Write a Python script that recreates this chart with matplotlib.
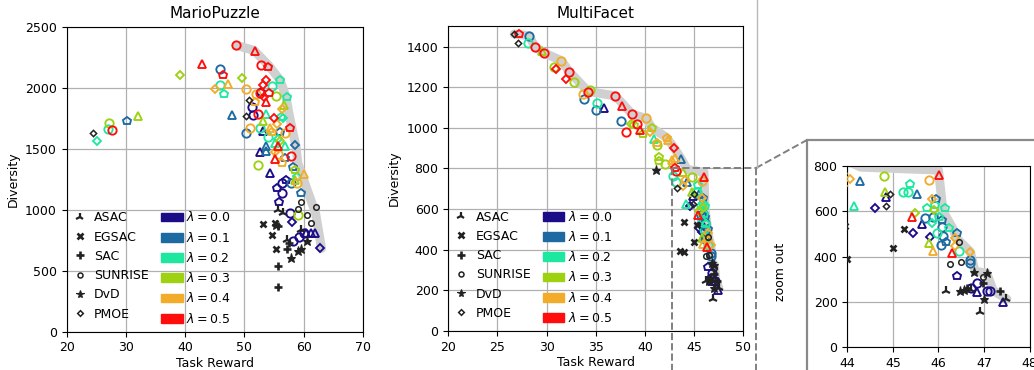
import matplotlib
matplotlib.use('Agg')
import matplotlib.pyplot as plt
from matplotlib.lines import Line2D
from matplotlib.patches import Patch, Rectangle

# ---- values ----
lambdas = [0.0, 0.1, 0.2, 0.3, 0.4, 0.5]
lam_colors = ['#1b0c87', '#1d6aa2', '#1ee8a0', '#9ed10f', '#f2ac2a', '#ff0d0d']
base_names = ['ASAC', 'EGSAC', 'SAC', 'SUNRISE', 'DvD', 'PMOE']

# MarioPuzzle, our method: (marker, task reward, diversity)
mario_lam00 = [('o', 51.2, 1839), ('o', 51.5, 1776), ('o', 56.3, 1221), ('o', 56.3, 1139), ('o', 57.6, 975),
               ('o', 58.2, 746), ('o', 59.2, 773), ('o', 60.0, 806),
               ('^', 53.2, 1645), ('^', 52.6, 1475), ('^', 54.3, 1303), ('^', 60.4, 805), ('^', 61.2, 808),
               ('^', 61.9, 805),
               ('p', 57.0, 1243), ('p', 55.5, 1175), ('p', 55.8, 1065), ('p', 52.8, 1967),
               ('D', 58.1, 902), ('D', 62.8, 683)]
mario_lam01 = [('o', 45.9, 2150), ('o', 50.2, 1631), ('o', 57.8, 1221),
               ('^', 47.9, 1776), ('^', 53.7, 1522), ('^', 53.7, 1483),
               ('p', 30.1, 1727), ('p', 56.0, 1639), ('p', 56.8, 1421), ('p', 58.2, 1352), ('p', 59.5, 1134),
               ('D', 58.5, 1530)]
mario_lam02 = [('o', 26.9, 1661), ('o', 45.9, 2022), ('o', 54.6, 2016), ('o', 52.6, 1672), ('o', 54.0, 1598),
               ('^', 53.7, 1784), ('^', 56.8, 1524), ('^', 55.1, 1543),
               ('p', 56.0, 2063), ('p', 46.6, 1945), ('p', 57.1, 1926), ('p', 58.8, 1270), ('p', 56.2, 1760),
               ('D', 25.1, 1563), ('D', 56.5, 1754), ('D', 55.6, 1580)]
mario_lam03 = [('o', 27.2, 1708), ('o', 55.3, 1932), ('o', 52.2, 1366), ('o', 59.1, 956),
               ('^', 32.1, 1770), ('^', 56.7, 1858), ('^', 53.2, 1729), ('^', 58.6, 1240),
               ('p', 58.5, 1325),
               ('D', 39.2, 2101), ('D', 49.6, 2076), ('D', 56.0, 1560)]
mario_lam04 = [('o', 50.2, 1986), ('o', 51.9, 1948), ('o', 50.9, 1672), ('o', 56.8, 1626), ('o', 55.7, 1456),
               ('o', 58.8, 1221),
               ('^', 47.3, 2030), ('^', 54.3, 1667), ('^', 60.1, 1289),
               ('p', 51.7, 1885), ('p', 54.7, 1639), ('p', 56.4, 1385),
               ('D', 45.1, 1986), ('D', 56.3, 1822), ('D', 55.5, 1700), ('D', 55.2, 1470)]
mario_lam05 = [('o', 48.6, 2347), ('o', 52.8, 2183), ('o', 52.6, 1959), ('o', 52.3, 1781), ('o', 57.8, 1442),
               ('o', 27.7, 1653),
               ('^', 51.7, 2300), ('^', 42.9, 2191), ('^', 53.7, 1885), ('^', 55.6, 1524), ('^', 55.1, 1412),
               ('p', 54.0, 2172), ('p', 46.3, 2106), ('p', 54.2, 1953), ('p', 57.7, 1667),
               ('D', 53.6, 2063), ('D', 53.2, 2022), ('D', 53.3, 1926), ('D', 55.0, 1749)]

mario_asac = [(55.7, 997), (56.5, 970), (57.1, 751), (59.6, 833)]
mario_egsac = [(53.05, 882), (54.6, 792), (55.3, 675), (55.1, 887)]
mario_sac = [(55.6, 541), (55.6, 363), (55.7, 866), (57.2, 675), (57.5, 724)]
mario_sunrise = [(59.5, 1060), (59.1, 1003), (60.5, 956), (62.0, 1024), (61.2, 893)]
mario_dvd = [(57.8, 601), (59.0, 664), (59.6, 675), (60.6, 746), (55.4, 872)]
mario_pmoe = [(24.5, 1631), (50.75, 1899), (50.2, 1768)]

mario_front_x = [48.6, 51.6, 54.0, 56.0, 57.0, 57.5, 58.2, 58.7, 59.0, 59.6, 61.2, 62.0, 63.0]
mario_front_y = [2347, 2306, 2186, 2063, 1926, 1790, 1626, 1516, 1380, 1298, 1079, 970, 683]

# MultiFacet, our method
mf_lam00 = [('^', 35.8, 1099), ('^', 44.85, 664), ('^', 45.65, 542), ('^', 46.85, 245), ('^', 47.41, 200),
            ('D', 44.6, 616), ('D', 45.45, 505), ('D', 45.81, 485),
            ('p', 46.41, 315),
            ('o', 46.84, 284), ('o', 46.71, 259), ('o', 47.06, 247), ('o', 47.14, 247)]
mf_lam01 = [('o', 28.2, 1454), ('o', 33.8, 1142), ('o', 35.0, 1088), ('o', 37.6, 1034), ('o', 45.7, 569),
            ('o', 45.87, 576), ('o', 46.07, 532), ('o', 46.11, 490), ('o', 46.06, 451), ('o', 46.69, 384),
            ('o', 46.69, 370),
            ('^', 43.7, 847), ('^', 44.28, 734), ('^', 45.54, 675),
            ('p', 45.95, 654), ('p', 46.07, 561), ('p', 46.16, 463), ('p', 46.4, 502)]
mf_lam02 = [('o', 28.1, 1416), ('o', 35.1, 1121), ('o', 42.8, 763), ('o', 43.2, 735), ('o', 45.23, 683),
            ('o', 45.34, 686), ('o', 45.96, 502), ('o', 46.45, 424),
            ('^', 40.9, 944), ('^', 44.15, 625),
            ('p', 45.38, 719), ('p', 45.92, 627), ('p', 45.74, 613), ('p', 46.14, 613), ('p', 46.02, 576),
            ('p', 46.24, 527),
            ('D', 45.85, 546)]
mf_lam03 = [('^', 29.5, 1378), ('^', 43.9, 784), ('^', 44.83, 686), ('^', 45.8, 458),
            ('o', 30.7, 1298), ('o', 32.8, 1228), ('o', 34.4, 1186), ('o', 41.2, 916), ('o', 42.0, 822),
            ('o', 44.8, 757),
            ('p', 38.9, 1015), ('p', 39.8, 968), ('p', 40.7, 1001), ('p', 41.4, 858), ('p', 41.4, 838),
            ('D', 38.6, 1020), ('D', 45.48, 591), ('D', 45.9, 605)]
mf_lam04 = [('o', 31.5, 1331), ('o', 33.7, 1167), ('o', 40.1, 1047), ('o', 45.8, 738),
            ('^', 42.3, 940), ('^', 42.7, 842), ('^', 43.1, 850), ('^', 45.89, 426),
            ('p', 41.2, 925), ('p', 42.2, 952),
            ('D', 40.5, 981), ('D', 43.9, 712), ('D', 44.06, 742), ('D', 45.85, 653), ('D', 46.36, 480),
            ('D', 46.36, 448), ('D', 46.69, 421)]
mf_lam05 = [('p', 27.2, 1462), ('o', 28.8, 1397), ('o', 29.7, 1367), ('D', 31.0, 1290), ('o', 32.3, 1277),
            ('D', 32.0, 1239), ('o', 34.2, 1177), ('o', 37.0, 1157), ('^', 37.7, 1109), ('o', 38.7, 1067),
            ('o', 38.1, 981), ('o', 39.2, 1020), ('^', 39.5, 990), ('D', 43.0, 899), ('p', 43.1, 804),
            ('o', 43.2, 790), ('^', 46.01, 760), ('^', 45.43, 573), ('^', 46.3, 414)]

mf_asac = [(46.16, 247), (46.71, 252), (47.48, 212), (46.91, 156)]
mf_egsac = [(43.95, 535), (45.0, 436), (43.6, 395), (44.0, 390), (45.25, 521)]
mf_sac = [(46.97, 281), (46.62, 259), (47.36, 247)]
mf_sunrise = [(46.45, 463), (46.25, 367), (46.49, 374), (46.97, 308)]
mf_dvd = [(41.1, 793), (46.79, 333), (47.06, 326), (46.47, 247), (46.56, 252), (47.0, 211)]
mf_pmoe = [(26.7, 1462), (27.1, 1419), (43.3, 702), (44.94, 675), (44.86, 623)]

mf_front_x = [26.7, 28.2, 28.8, 29.7, 31.5, 32.3, 34.2, 37.0, 38.7, 40.1, 40.7, 42.2, 43.0, 43.7, 44.3,
              46.0, 46.1, 46.3, 46.4, 46.7, 46.8, 47.06, 47.2, 47.5]
mf_front_y = [1462, 1454, 1400, 1370, 1331, 1277, 1180, 1157, 1067, 1047, 1001, 952, 899, 847, 795,
              782, 600, 530, 480, 421, 335, 326, 250, 212]

# ---- styles ----
base_style = {
    'ASAC': dict(marker='2', ms=7, mew=1.6),
    'EGSAC': dict(marker='x', ms=4.5, mew=1.9),
    'SAC': dict(marker='+', ms=6, mew=1.9),
    'SUNRISE': dict(marker='o', ms=4, mew=1.1, mfc='none'),
    'DvD': dict(marker='*', ms=6.5, mew=0.8),
    'PMOE': dict(marker='D', ms=3.2, mew=1.1, mfc='none'),
}
shape_size = {'o': 6.0, '^': 6.0, 'p': 6.2, 'D': 4.3}

W, H = 1034, 370
fig = plt.figure(figsize=(W / 100, H / 100), dpi=100)


def px_axes(l, t, r, b):
    return fig.add_axes([l / W, 1 - b / H, (r - l) / W, (b - t) / H])


def draw(ax, lam_sets, bases, fx, fy):
    ax.grid(True, color='#b0b0b0', lw=0.9, zorder=0)
    ax.set_axisbelow(True)
    ax.plot(fx, fy, color='#d0d0d0', lw=6.5, solid_capstyle='round', solid_joinstyle='round', zorder=1)
    for pts, c in zip(lam_sets, lam_colors):
        for m in ['o', '^', 'p', 'D']:
            xs = [p[1] for p in pts if p[0] == m]
            ys = [p[2] for p in pts if p[0] == m]
            ax.plot(xs, ys, ls='', marker=m, ms=shape_size[m], mfc='none', mec=c, mew=1.35, zorder=3)
    for name, pts in zip(base_names, bases):
        ax.plot([p[0] for p in pts], [p[1] for p in pts], ls='', color='#222222', zorder=4,
                **base_style[name])
    ax.tick_params(labelsize=9)


def add_legend(ax):
    handles = []
    for name in base_names:
        st = dict(base_style[name])
        st['ms'] = st['ms'] * 0.9
        handles.append(Line2D([], [], ls='', color='#222222', **st))
    for c in lam_colors:
        handles.append(Patch(facecolor=c, edgecolor=c))
    labels = base_names + [r'$\lambda = %.1f$' % l for l in lambdas]
    ax.legend(handles, labels, ncol=2, loc='lower left', bbox_to_anchor=(0.0, 0.012), frameon=False,
              fontsize=9, handlelength=1.7, handletextpad=0.3, columnspacing=1.0,
              borderaxespad=0.0, borderpad=0.2)


# MarioPuzzle
ax1 = px_axes(66.7, 26.7, 363, 331.7)
draw(ax1, [mario_lam00, mario_lam01, mario_lam02, mario_lam03, mario_lam04, mario_lam05],
     [mario_asac, mario_egsac, mario_sac, mario_sunrise, mario_dvd, mario_pmoe],
     mario_front_x, mario_front_y)
ax1.set_xlim(20, 70)
ax1.set_ylim(0, 2500)
ax1.set_title('MarioPuzzle', fontsize=11)
ax1.set_xlabel('Task Reward', fontsize=9, labelpad=2)
ax1.set_ylabel('Diversity', fontsize=9)
add_legend(ax1)

# MultiFacet
mf_sets = [mf_lam00, mf_lam01, mf_lam02, mf_lam03, mf_lam04, mf_lam05]
mf_bases = [mf_asac, mf_egsac, mf_sac, mf_sunrise, mf_dvd, mf_pmoe]
ax2 = px_axes(448.3, 26.3, 743.3, 331)
draw(ax2, mf_sets, mf_bases, mf_front_x, mf_front_y)
ax2.set_xlim(20, 50)
ax2.set_ylim(0, 1500)
ax2.set_title('MultiFacet', fontsize=11)
ax2.set_xlabel('Task Reward', fontsize=9, labelpad=2)
ax2.set_ylabel('Diversity', fontsize=9)
add_legend(ax2)

# zoomed view of the MultiFacet tail
ax3 = px_axes(847.3, 166, 1029.6, 347)
draw(ax3, mf_sets, mf_bases, mf_front_x, mf_front_y)
ax3.set_xlim(44, 48)
ax3.set_ylim(0, 800)
ax3.set_yticks([0, 200, 400, 600, 800])
fig.text(780 / W, 1 - 272 / H, 'zoom out', rotation=90, ha='center', va='center', fontsize=9)

# decorations: zoom box, connector, frame, separator
dash = dict(color='#808080', ls='--', lw=1.4, transform=fig.transFigure)
fig.add_artist(Line2D([672 / W, 756 / W], [1 - 168 / H, 1 - 168 / H], **dash))
fig.add_artist(Line2D([672 / W, 672 / W], [1 - 168 / H, -0.05], **dash))
fig.add_artist(Line2D([756 / W, 756 / W], [1 - 168 / H, -0.05], **dash))
fig.add_artist(Line2D([756 / W, 807 / W], [1 - 168 / H, 1 - 140 / H], **dash))
fig.add_artist(Line2D([757 / W, 757 / W], [1 - 168 / H, 1.0], color='#b8b8b8', lw=1.0,
                      transform=fig.transFigure))
fig.add_artist(Rectangle((807 / W, -0.2), 0.5, 1.2 - 140 / H, fill=False, ec='#8a8a8a', lw=1.6,
                         transform=fig.transFigure))

fig.savefig('out.png', dpi=100)
